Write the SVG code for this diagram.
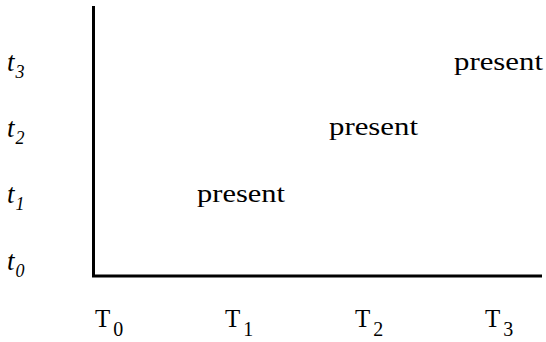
<svg xmlns="http://www.w3.org/2000/svg" width="546" height="342" viewBox="0 0 546 342">
<style>
.lbl{font-family:'Liberation Serif','DejaVu Serif',serif;fill:#000}
.ti{font-size:27px;font-style:italic}
.Ti{font-size:25px}
.sub{font-size:18px}
.subT{font-size:20px}
.pr{font-size:26px}
.axis{stroke:#000;stroke-width:3;fill:none}
</style>
<rect width="546" height="342" fill="#fff"/>
<g id="axes">
<path class="axis" d="M93.5,6 V276 H542"/>
</g>
<g id="y-labels">
<text class="lbl ti" x="7" y="71">t<tspan class="sub" dx="1" dy="7">3</tspan></text>
<text class="lbl ti" x="7" y="137">t<tspan class="sub" dx="1" dy="7">2</tspan></text>
<text class="lbl ti" x="7" y="203">t<tspan class="sub" dx="1" dy="7">1</tspan></text>
<text class="lbl ti" x="7" y="270">t<tspan class="sub" dx="1" dy="7">0</tspan></text>
</g>
<g id="x-labels">
<text class="lbl Ti" x="95" y="327">T<tspan class="subT" dx="3" dy="9">0</tspan></text>
<text class="lbl Ti" x="225" y="327">T<tspan class="subT" dx="3" dy="9">1</tspan></text>
<text class="lbl Ti" x="355" y="327">T<tspan class="subT" dx="3" dy="9">2</tspan></text>
<text class="lbl Ti" x="485" y="327">T<tspan class="subT" dx="3" dy="9">3</tspan></text>
</g>
<g id="p1"><text class="lbl pr" x="197" y="202" textLength="88" lengthAdjust="spacingAndGlyphs">present</text></g>
<g id="p2"><text class="lbl pr" x="329" y="135" textLength="89" lengthAdjust="spacingAndGlyphs">present</text></g>
<g id="p3"><text class="lbl pr" x="454" y="70" textLength="89" lengthAdjust="spacingAndGlyphs">present</text></g>
</svg>
